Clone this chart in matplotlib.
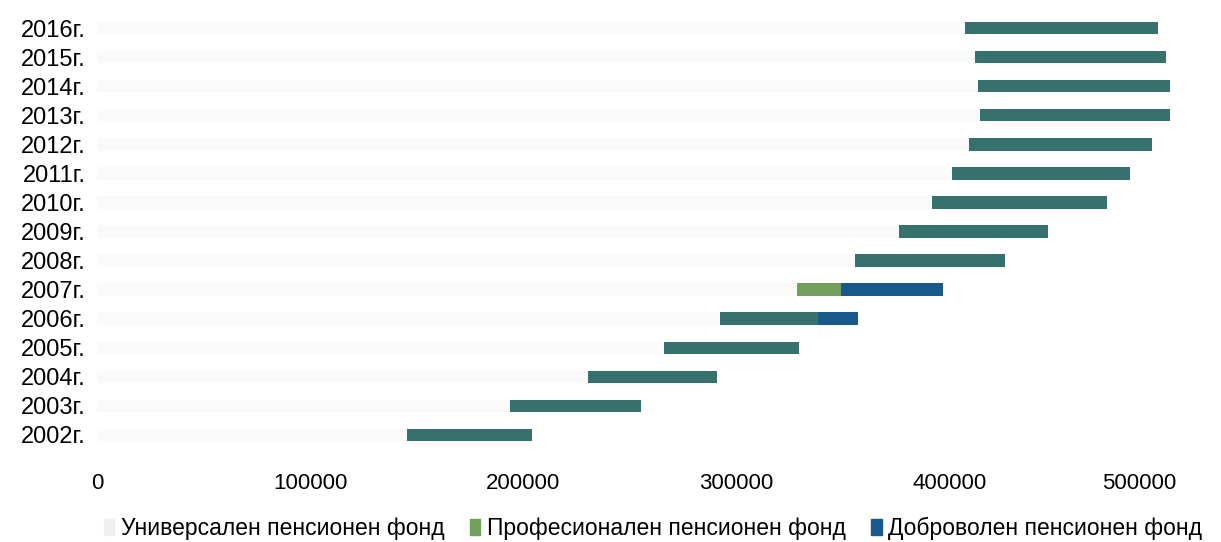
import numpy as np
import matplotlib
matplotlib.use("Agg")
import matplotlib.pyplot as plt
import matplotlib.transforms as mtransforms
from matplotlib.patches import Patch

plt.rcParams['font.family'] = ['Liberation Sans', 'DejaVu Sans']

years = ['2002г.', '2003г.', '2004г.', '2005г.', '2006г.', '2007г.', '2008г.', '2009г.',
         '2010г.', '2011г.', '2012г.', '2013г.', '2014г.', '2015г.', '2016г.']
universal = [145500, 193900, 230500, 266200, 292500, 328600, 355900, 376500,
             392000, 401400, 409400, 414600, 413600, 412200, 407500]
professional = [0, 0, 0, 0, 0, 20400, 0, 0, 0, 0, 0, 0, 0, 0, 0]
other = [58700, 61500, 60600, 63400, 46000, 0, 70400, 70000,
         82200, 83600, 85900, 89200, 90200, 89700, 90600]
voluntary = [0, 0, 0, 0, 18800, 48200, 0, 0, 0, 0, 0, 0, 0, 0, 0]
xticks = [0, 100000, 200000, 300000, 400000, 500000]

C_UNI = "#fafafa"
C_PRO = "#72a05c"
C_OTH = "#36716d"
C_VOL = "#17598a"

fig = plt.figure(figsize=(12.21, 5.42), dpi=100)
ax = fig.add_axes([97/1221, 1-455/542, (1205-97)/1221, (455-8)/542])
y = np.arange(len(years))
h = 0.42
left = np.zeros(len(years))
for vals, col in [(universal, C_UNI), (professional, C_PRO), (other, C_OTH), (voluntary, C_VOL)]:
    v = np.array(vals, dtype=float)
    ax.barh(y, v, left=left, height=h, color=col, linewidth=0)
    left += v

ax.set_xlim(0, 520000)
ax.set_ylim(-0.7, len(years) - 0.3)
ax.set_yticks(y)
ax.set_yticklabels(years, fontsize=17)
ax.set_xticks(xticks)
ax.set_xticklabels([str(t) for t in xticks], fontsize=16)
ax.tick_params(axis='both', length=0)
ax.tick_params(axis='x', pad=13)
ax.tick_params(axis='y', pad=8)
for s in ax.spines.values():
    s.set_visible(False)
# last x label sits a little left in the original
lab = ax.get_xticklabels()[-1]
lab.set_transform(lab.get_transform() + mtransforms.ScaledTranslation(-0.23, 0, fig.dpi_scale_trans))

hand = [Patch(color="#f0f0f0", label="Универсален пенсионен фонд"),
        Patch(color=C_PRO, label="Професионален пенсионен фонд"),
        Patch(color=C_VOL, label="Доброволен пенсионен фонд")]
fig.legend(handles=hand, loc="center", bbox_to_anchor=(0.535, 0.025), ncol=3,
           frameon=False, fontsize=16.5, handlelength=0.45, handleheight=0.7,
           handletextpad=0.3, columnspacing=1.1)

fig.savefig("out.png", dpi=100)
